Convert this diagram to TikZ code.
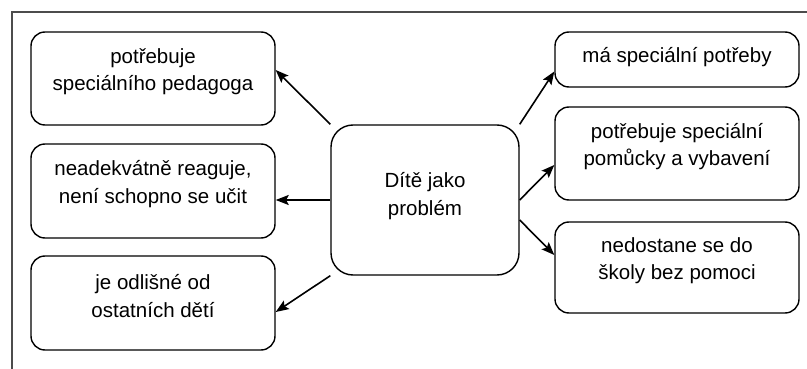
\documentclass[tikz,border=0pt]{standalone}
\usepackage{fontspec}
\setmainfont{Liberation Sans}
\usetikzlibrary{arrows.meta}
\begin{document}
\begin{tikzpicture}[x=1pt,y=-1pt,
  box/.style={draw=black, line width=1.4pt, rounded corners=14pt, minimum width=244pt, inner sep=0pt},
  cbox/.style={draw=black, line width=1.4pt, rounded corners=22pt, minimum width=188pt, minimum height=150pt, inner sep=0pt},
  txt/.style={align=center, inner sep=0pt, font=\fontsize{20.5pt}{27.5pt}\selectfont},
  arr/.style={line width=1.6pt, -{Stealth[length=13pt,width=10pt,inset=2.5pt]}},
  frame/.style={draw=black!70, line width=1.3pt}]
\useasboundingbox (0,0) rectangle (807,369);
\coordinate (f1) at (12,369);
\coordinate (f2) at (12,12);
\coordinate (f3) at (807,12);
\draw[frame] (f1) -- (f2) -- (f3);
% left boxes
\node[box, minimum height=93pt] (b1) at (153,78.5) {};
\node[txt] (t1) at ([yshift=7pt]b1.center) {potřebuje\\speciálního pedagoga};
\node[box, minimum height=94pt] (b2) at (153,191) {};
\node[txt] (t2) at ([yshift=7pt]b2.center) {neadekvátně reaguje,\\není schopno se učit};
\node[box, minimum height=94pt] (b3) at (153,303) {};
\node[txt] (t3) at ([yshift=7pt]b3.center) {je odlišné od\\ostatních dětí};
% right boxes
\node[box, minimum height=55pt] (r1) at (677,59.5) {};
\node[txt] (s1) at ([yshift=2pt]r1.center) {má speciální potřeby};
\node[box, minimum height=93pt] (r2) at (677,153.5) {};
\node[txt] (s2) at ([yshift=7pt]r2.center) {potřebuje speciální\\pomůcky a vybavení};
\node[box, minimum height=91pt] (r3) at (677,267.5) {};
\node[txt] (s3) at ([yshift=7pt]r3.center) {nedostane se do\\školy bez pomoci};
% center
\node[cbox] (c) at (425,200) {};
\node[txt] (ct) at ([yshift=4pt]c.center) {Dítě jako\\problém};
% arrows
\draw[arr] (c.north west) -- ([yshift=8.5pt]b1.east);
\draw[arr] (c.west) -- ([yshift=-9pt]b2.east);
\draw[arr] (c.south west) -- ([yshift=-9pt]b3.east);
\draw[arr] (c.north east) -- ([yshift=-12pt]r1.west);
\draw[arr] (c.east) -- ([yshift=-11.5pt]r2.west);
\draw[arr] ([yshift=-20pt]c.east) -- ([yshift=12.5pt]r3.west);
\end{tikzpicture}
\end{document}
